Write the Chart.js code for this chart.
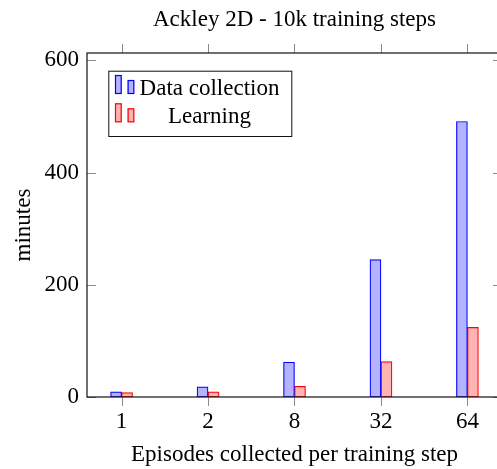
<!DOCTYPE html>
<html>
<head>
<meta charset="utf-8">
<script src="https://cdn.jsdelivr.net/npm/chart.js@4"></script>
<style>
  html, body { margin: 0; padding: 0; background: #fff; overflow: hidden; width: 497px; height: 469px; }
  #wrap { width: 497px; height: 469px; overflow: hidden; }
  canvas { display: block; }
</style>
</head>
<body>
<div id="wrap"><canvas id="c" width="502" height="469"></canvas></div>
<script>
// Episodes per step and wall-clock minutes for each phase
const categories = ['1', '2', '8', '32', '64'];
const dataCollection = [9, 18, 62, 245, 491];
const learning = [8, 9, 19, 63, 124];
const yTicks = [0, 200, 400, 600];
const seriesNames = ['Data collection', 'Learning'];

const SERIF = "'Liberation Serif', 'Times New Roman', serif";
Chart.defaults.font.family = SERIF;
Chart.defaults.color = '#000';

const toPoints = vals => vals.map((y, i) => ({ x: i, y }));

// pgfplots-style frame: black box, ticks on every side, boxed legend
const framePlugin = {
  id: 'frame',
  afterDraw(chart) {
    const { ctx, chartArea: a, scales: { x, y } } = chart;
    ctx.save();
    ctx.strokeStyle = '#8a8a8a';
    ctx.lineWidth = 1;
    ctx.beginPath();
    categories.forEach((_, i) => {
      const px = Math.round(x.getPixelForValue(i)) + 0.5;
      ctx.moveTo(px, a.bottom); ctx.lineTo(px, a.bottom + 9);
      ctx.moveTo(px, a.top); ctx.lineTo(px, a.top - 9);
    });
    yTicks.forEach(v => {
      const py = Math.round(y.getPixelForValue(v)) + 0.5;
      ctx.moveTo(a.left, py); ctx.lineTo(a.left + 9, py);
      ctx.moveTo(a.right, py); ctx.lineTo(a.right - 9, py);
    });
    ctx.stroke();

    ctx.strokeStyle = '#111';
    ctx.lineWidth = 1.2;
    ctx.strokeRect(a.left, a.top, a.right - a.left, a.bottom - a.top);

    // legend
    const lx = a.left + 21.3, ly = a.top + 17.7, lw = 183, lh = 65.3;
    ctx.fillStyle = '#fff';
    ctx.fillRect(lx, ly, lw, lh);
    ctx.strokeStyle = '#111';
    ctx.lineWidth = 1;
    ctx.strokeRect(lx + 0.5, ly + 0.5, lw, lh);
    chart.data.datasets.forEach((ds, k) => {
      const rowTop = ly + 4.3 + k * 28.3;
      const base = rowTop + 19;
      ctx.fillStyle = ds.backgroundColor;
      ctx.strokeStyle = ds.borderColor;
      ctx.lineWidth = 1.2;
      [[6.7, 19], [19.3, 14]].forEach(([dx, h]) => {
        ctx.fillRect(lx + dx, base - h, 6.7, h);
        ctx.strokeRect(lx + dx + 0.5, base - h + 0.5, 5.7, h - 1);
      });
      ctx.fillStyle = '#000';
      ctx.font = '23px ' + SERIF;
      ctx.textAlign = 'center';
      ctx.textBaseline = 'alphabetic';
      ctx.fillText(ds.label, lx + 101.2, rowTop + 20);
    });
    ctx.restore();
  }
};

new Chart(document.getElementById('c'), {
  type: 'bar',
  data: {
    datasets: [
      {
        label: seriesNames[0],
        data: toPoints(dataCollection),
        backgroundColor: 'rgb(179,179,255)',
        borderColor: 'rgb(0,0,255)',
        borderWidth: 1.2,
        borderSkipped: false,
        barThickness: 11
      },
      {
        label: seriesNames[1],
        data: toPoints(learning),
        backgroundColor: 'rgb(255,179,179)',
        borderColor: 'rgb(255,0,0)',
        borderWidth: 1.2,
        borderSkipped: false,
        barThickness: 11
      }
    ]
  },
  options: {
    responsive: false,
    animation: false,
    devicePixelRatio: 1,
    layout: { padding: 0 },
    plugins: {
      legend: { display: false },
      tooltip: { enabled: false },
      title: {
        display: true,
        text: 'Ackley 2D - 10k training steps',
        fullSize: false,
        color: '#000',
        font: { size: 23, weight: 'normal', lineHeight: 1.2 },
        padding: { top: 5.7, bottom: 19.7 }
      }
    },
    scales: {
      x: {
        type: 'linear',
        offset: false,
        min: -0.4,
        max: 4.4,
        grid: { display: false, drawTicks: false },
        border: { display: false },
        afterBuildTicks: s => { s.ticks = categories.map((_, i) => ({ value: i })); },
        afterFit: s => { s.height = 72; },
        ticks: {
          callback: v => categories[v],
          font: { size: 23 },
          padding: 11,
          maxRotation: 0,
          autoSkip: false
        },
        title: {
          display: true,
          text: 'Episodes collected per training step',
          font: { size: 23 },
          padding: { top: 0, bottom: 0 }
        }
      },
      y: {
        min: 0,
        max: 613,
        grid: { display: false, drawTicks: false },
        border: { display: false },
        afterBuildTicks: s => { s.ticks = yTicks.map(v => ({ value: v })); },
        afterFit: s => { s.width = 87; },
        ticks: { font: { size: 23 }, padding: 8 },
        title: {
          display: true,
          text: 'minutes',
          font: { size: 23 },
          padding: { top: 10.4, bottom: 0 }
        }
      }
    }
  },
  plugins: [framePlugin]
});
</script>
</body>
</html>
